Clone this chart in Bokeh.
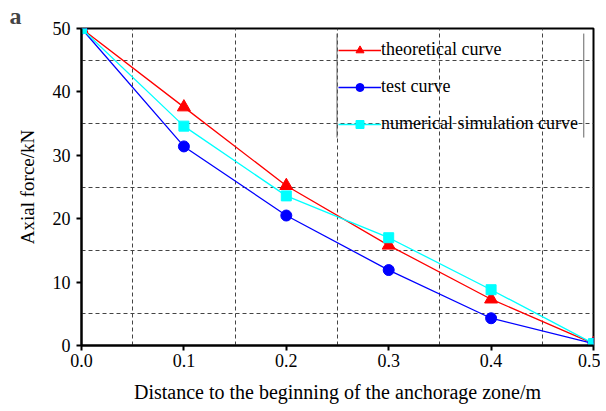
from bokeh.plotting import figure
from bokeh.models import Range1d, FixedTicker, Legend, LegendItem, CustomJSTickFormatter
from bokeh.embed import file_html
from bokeh.resources import INLINE

x_vals = [0.0, 0.1, 0.2, 0.3, 0.4, 0.5]
theoretical = [50.0, 37.6, 25.2, 15.8, 7.3, 0.3]
test = [50.0, 31.4, 20.5, 11.9, 4.3, 0.3]
simulation = [50.0, 34.6, 23.6, 17.0, 8.8, 0.3]
x_ticks = [0.0, 0.1, 0.2, 0.3, 0.4, 0.5]
y_ticks = [0, 10, 20, 30, 40, 50]
x_grid = [0.05, 0.15, 0.25, 0.35, 0.45]
y_grid = [5, 15, 25, 35, 45]

FONT = "Liberation Serif"

p = figure(width=600, height=405, output_backend="svg", toolbar_location=None,
           x_range=Range1d(0, 0.5), y_range=Range1d(0, 50),
           min_border_left=81, min_border_right=7, min_border_top=28, min_border_bottom=60)
p.background_fill_color = "white"
p.border_fill_color = "white"
p.outline_line_color = "black"
p.outline_line_width = 2

p.title.text = "a"
p.title.text_font = FONT
p.title.text_font_size = "24px"
p.title.text_font_style = "bold"
p.title.align = "left"
p.title.offset = -72
p.title.standoff = 0

for ax, ticks in ((p.xaxis[0], x_ticks), (p.yaxis[0], y_ticks)):
    ax.ticker = FixedTicker(ticks=ticks)
    ax.axis_line_width = 2
    ax.axis_line_color = "black"
    ax.major_tick_line_width = 2
    ax.major_tick_line_color = "black"
    ax.major_tick_out = 5
    ax.major_tick_in = 0
    ax.minor_tick_line_color = None
    ax.major_label_text_font = FONT
    ax.major_label_text_font_size = "18px"
    ax.major_label_text_color = "black"
    ax.axis_label_text_font = FONT
    ax.axis_label_text_font_size = "19px"
    ax.axis_label_text_font_style = "normal"
    ax.axis_label_text_color = "black"

p.xaxis[0].formatter = CustomJSTickFormatter(code="return tick.toFixed(1);")
p.xaxis[0].axis_label = "Distance to the beginning of the anchorage zone/m"
p.yaxis[0].axis_label = "Axial force/kN"
p.xaxis[0].axis_label_text_font_size = "20px"
p.xaxis[0].major_label_standoff = 3
p.yaxis[0].major_label_standoff = 6
p.xaxis[0].axis_label_standoff = 11
p.yaxis[0].axis_label_standoff = 12

p.xgrid[0].ticker = FixedTicker(ticks=x_grid)
p.ygrid[0].ticker = FixedTicker(ticks=y_grid)
for g in (p.xgrid[0], p.ygrid[0]):
    g.grid_line_color = "#444444"
    g.grid_line_dash = "4 3"
    g.grid_line_width = 1

r_l = p.line(x_vals, theoretical, line_color="red", line_width=1.3)
r_m = p.scatter(x_vals, theoretical, marker="triangle", size=13, fill_color="red", line_color="red")
b_l = p.line(x_vals, test, line_color="blue", line_width=1.3)
b_m = p.scatter(x_vals, test, marker="circle", size=11, fill_color="blue", line_color="blue")
c_l = p.line(x_vals, simulation, line_color="cyan", line_width=1.3)
c_m = p.scatter(x_vals, simulation, marker="square", size=10, fill_color="cyan", line_color="cyan")

# legend side borders
p.segment(x0=[0.2495, 0.4905], y0=[49.2, 49.2], x1=[0.2495, 0.4905], y1=[32.8, 32.8],
          line_color="#666666", line_width=1)

legend = Legend(items=[
    LegendItem(label="theoretical curve", renderers=[r_l, r_m]),
    LegendItem(label="test curve", renderers=[b_l, b_m]),
    LegendItem(label="numerical simulation curve", renderers=[c_l, c_m]),
], location=(257, 211))
legend.border_line_alpha = 0
legend.background_fill_alpha = 0
legend.label_text_font = FONT
legend.label_text_font_size = "18px"
legend.label_text_color = "black"
legend.glyph_width = 43
legend.glyph_height = 20
legend.label_height = 20
legend.label_standoff = 0
legend.spacing = 16
legend.padding = 0
legend.margin = 0
p.add_layout(legend, "center")

open("out.html", "w").write(file_html(p, INLINE))
